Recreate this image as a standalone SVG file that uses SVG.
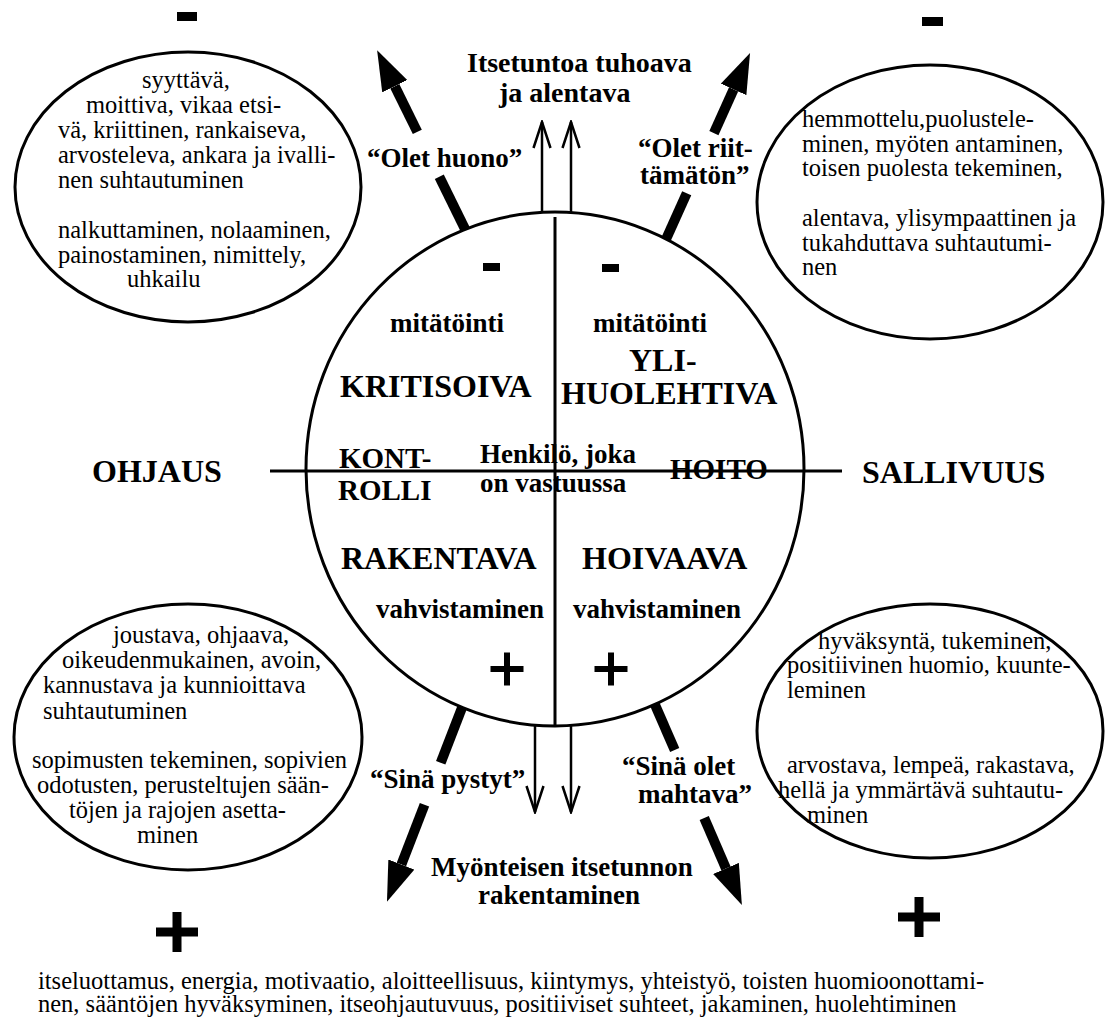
<svg xmlns="http://www.w3.org/2000/svg" width="1109" height="1019" viewBox="0 0 1109 1019" font-family="'Liberation Serif', 'Times New Roman', 'DejaVu Serif', serif">
<style>
  text { font-family: 'Liberation Serif', 'Times New Roman', 'DejaVu Serif', serif; fill: #000; }
  .r { font-size: 24.5px; }
  .b { font-weight: bold; font-size: 27px; }
  .cap { font-weight: bold; font-size: 32px; }
  .cap2 { font-weight: bold; font-size: 29px; }
  .title { font-weight: bold; font-size: 28px; }
  .shape { fill: #fff; stroke: #000; stroke-width: 3; }
  .thick { stroke: #000; stroke-width: 10; fill: none; }
  .thin { stroke: #000; stroke-width: 2.5; fill: none; }
  .axis { stroke: #000; stroke-width: 3; }
</style>
<defs>
  <marker id="head" viewBox="0 -14 40 28" refX="0" refY="0" markerWidth="40" markerHeight="28" markerUnits="userSpaceOnUse" orient="auto">
    <path d="M0,-14 L40,0 L0,14 z" fill="#000"/>
  </marker>
  <marker id="open" viewBox="-28 -10 30 20" refX="0" refY="0" markerWidth="30" markerHeight="20" markerUnits="userSpaceOnUse" orient="auto">
    <path d="M-26,-8.5 L0,0 L-26,8.5" fill="none" stroke="#000" stroke-width="2.5"/>
  </marker>
</defs>
<rect width="1109" height="1019" fill="#fff"/>

<g id="ellipse-top-left">
  <ellipse class="shape" cx="188" cy="187" rx="173" ry="135"/>
  <text class="r" x="142" y="88">syyttävä,</text>
  <text class="r" x="86" y="113">moittiva, vikaa etsi-</text>
  <text class="r" x="58" y="138">vä, kriittinen, rankaiseva,</text>
  <text class="r" x="58" y="163">arvosteleva, ankara ja ivalli-</text>
  <text class="r" x="58" y="188">nen suhtautuminen</text>
  <text class="r" x="58" y="238">nalkuttaminen, nolaaminen,</text>
  <text class="r" x="58" y="263">painostaminen, nimittely,</text>
  <text class="r" x="127" y="287">uhkailu</text>
</g>

<g id="ellipse-top-right">
  <ellipse class="shape" cx="930" cy="202" rx="173" ry="137"/>
  <text class="r" x="802" y="127">hemmottelu,puolustele-</text>
  <text class="r" x="802" y="152">minen, myöten antaminen,</text>
  <text class="r" x="802" y="176">toisen puolesta tekeminen,</text>
  <text class="r" x="802" y="226">alentava, ylisympaattinen ja</text>
  <text class="r" x="802" y="251">tukahduttava suhtautumi-</text>
  <text class="r" x="802" y="275">nen</text>
</g>

<g id="ellipse-bottom-left">
  <ellipse class="shape" cx="188" cy="737" rx="174" ry="133"/>
  <text class="r" x="113" y="643">joustava, ohjaava,</text>
  <text class="r" x="62" y="668">oikeudenmukainen, avoin,</text>
  <text class="r" x="43" y="693">kannustava ja kunnioittava</text>
  <text class="r" x="43" y="719">suhtautuminen</text>
  <text class="r" x="32" y="768">sopimusten tekeminen, sopivien</text>
  <text class="r" x="37" y="793">odotusten, perusteltujen sään-</text>
  <text class="r" x="69" y="818">töjen ja rajojen asetta-</text>
  <text class="r" x="137" y="843">minen</text>
</g>

<g id="ellipse-bottom-right">
  <ellipse class="shape" cx="930" cy="731" rx="173" ry="127"/>
  <text class="r" x="818" y="649">hyväksyntä, tukeminen,</text>
  <text class="r" x="787" y="673">positiivinen huomio, kuunte-</text>
  <text class="r" x="787" y="698">leminen</text>
  <text class="r" x="787" y="773">arvostava, lempeä, rakastava,</text>
  <text class="r" x="778" y="798">hellä ja ymmärtävä suhtautu-</text>
  <text class="r" x="807" y="823">minen</text>
</g>

<g id="connectors">
  <path class="thick" d="M465,229 L439.3,176.8"/>
  <path class="thick" d="M417.3,131.9 L394.8,86.2" marker-end="url(#head)"/>
  <path class="thick" d="M665.8,239.7 L686.7,193.3"/>
  <path class="thick" d="M713.9,133.1 L733.6,89.4" marker-end="url(#head)"/>
  <path class="thick" d="M464.1,702.2 L440.7,762.8"/>
  <path class="thick" d="M424.5,804.8 L401.4,864.5" marker-end="url(#head)"/>
  <path class="thick" d="M654.8,704.2 L674.7,750.1"/>
  <path class="thick" d="M704.2,818 L726,868.4" marker-end="url(#head)"/>
  <path class="thin" d="M542,213 L542,122" marker-end="url(#open)"/>
  <path class="thin" d="M571,213 L571,122" marker-end="url(#open)"/>
  <path class="thin" d="M535,724 L535,812" marker-end="url(#open)"/>
  <path class="thin" d="M571,724 L571,812" marker-end="url(#open)"/>
</g>

<g id="center-circle">
  <ellipse class="shape" cx="555" cy="469" rx="249" ry="257"/>
  <line class="axis" x1="270" y1="471" x2="842" y2="471"/>
  <line class="axis" x1="555" y1="217" x2="555" y2="726"/>
  <rect x="483" y="263" width="17" height="8" fill="#000"/>
  <rect x="602" y="264" width="17" height="8" fill="#000"/>
  <text class="b" x="390" y="332">mitätöinti</text>
  <text class="b" x="593" y="332">mitätöinti</text>
  <text class="cap" x="340" y="397">KRITISOIVA</text>
  <text class="cap" x="629" y="371">YLI-</text>
  <text class="cap" x="561" y="404">HUOLEHTIVA</text>
  <text class="cap2" x="339" y="468">KONT-</text>
  <text class="cap2" x="338" y="500">ROLLI</text>
  <text class="b" x="480" y="463">Henkilö, joka</text>
  <text class="b" x="480" y="492">on vastuussa</text>
  <text class="cap2" x="670" y="479">HOITO</text>
  <text class="cap" x="341" y="569">RAKENTAVA</text>
  <text class="cap" x="582" y="569">HOIVAAVA</text>
  <text class="b" x="376" y="618">vahvistaminen</text>
  <text class="b" x="573" y="618">vahvistaminen</text>
  <path d="M490.5,669 H523.5 M507,652.5 V685.5" stroke="#000" stroke-width="6"/>
  <path d="M594.5,669 H627.5 M611,652.5 V685.5" stroke="#000" stroke-width="6"/>
</g>

<g id="labels">
  <text class="title" x="467" y="72">Itsetuntoa tuhoava</text>
  <text class="title" x="499" y="102">ja alentava</text>
  <text class="b" x="367" y="167">“Olet huono”</text>
  <text class="b" x="638" y="157">“Olet riit-</text>
  <text class="b" x="640" y="184">tämätön”</text>
  <text class="cap" x="92" y="482">OHJAUS</text>
  <text class="cap" x="862" y="483">SALLIVUUS</text>
  <text class="b" x="370" y="788">“Sinä pystyt”</text>
  <text class="b" x="622" y="775">“Sinä olet</text>
  <text class="b" x="638" y="803">mahtava”</text>
  <text class="b" x="431" y="876">Myönteisen itsetunnon</text>
  <text class="b" x="559" y="904" text-anchor="middle">rakentaminen</text>
</g>

<g id="signs">
  <rect x="177" y="12" width="20" height="9" fill="#000"/>
  <rect x="922" y="17" width="21" height="9" fill="#000"/>
  <path d="M156,932 H198 M177,912 V952" stroke="#000" stroke-width="9"/>
  <path d="M898,917 H940 M919,897 V937" stroke="#000" stroke-width="9"/>
</g>

<g id="bottom-text">
  <text class="r" x="38" y="989">itseluottamus, energia, motivaatio, aloitteellisuus, kiintymys, yhteistyö, toisten huomioonottami-</text>
  <text class="r" x="38" y="1012">nen, sääntöjen hyväksyminen, itseohjautuvuus, positiiviset suhteet, jakaminen,  huolehtiminen</text>
</g>
</svg>
